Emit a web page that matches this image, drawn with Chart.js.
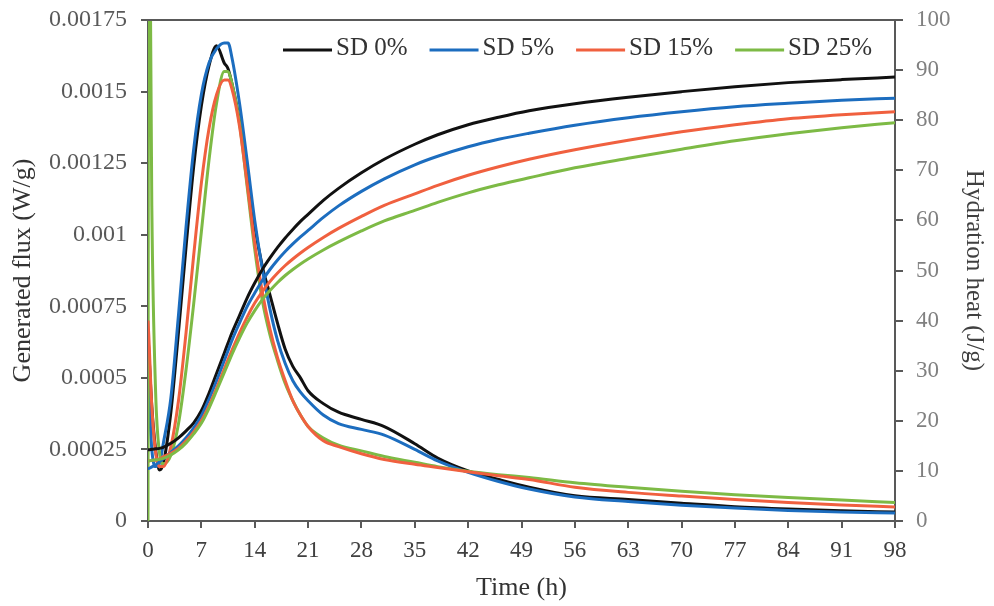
<!DOCTYPE html>
<html>
<head>
<meta charset="utf-8">
<title>Generated flux and hydration heat</title>
<script src="https://cdn.jsdelivr.net/npm/chart.js@4.4.1/dist/chart.umd.min.js"></script>
<style>
  html, body { margin: 0; padding: 0; background: #fff; }
  #wrap { width: 994px; height: 606px; position: relative; }
</style>
</head>
<body>
<div id="wrap"><canvas id="chart"></canvas></div>
<script>
// -- Data ------------------------------------------------------------------
const TIME_H = [0, 0.1, 0.5, 1, 1.5, 2, 3, 4, 5, 6, 7, 8, 9, 10, 10.5, 11, 12, 13, 14, 15,
  16, 17, 18, 19, 20, 21, 23, 25, 28, 31, 35, 38, 42, 46, 50, 56, 63, 70, 77, 84, 91, 98];

// generated flux (W/g), left axis
const FLUX_SD0 = [0.00065, 0.0006, 0.0004, 0.00025, 0.000178, 0.0002, 0.00038, 0.00066, 0.00096, 0.00124,
  0.00145, 0.00159, 0.00166, 0.0016, 0.00158, 0.00153, 0.0014, 0.00122, 0.00103, 0.00089,
  0.00079, 0.00069, 0.0006, 0.00054, 0.0005, 0.000455, 0.00041, 0.00038, 0.000355, 0.00033,
  0.00027, 0.00022, 0.000175, 0.000145, 0.000118, 0.000088, 0.000075, 0.000062, 0.00005, 0.000042,
  0.000036, 0.000031];
const FLUX_SD5 = [0.0005, 0.00045, 0.00025, 0.00019, 0.0002, 0.00027, 0.00043, 0.00072, 0.00103, 0.0013,
  0.00149, 0.0016, 0.00165, 0.00167, 0.00167, 0.00162, 0.00146, 0.00126, 0.00105, 0.00088,
  0.00074, 0.00063, 0.00055, 0.00049, 0.00045, 0.00042, 0.00037, 0.00034, 0.00032, 0.0003,
  0.00025, 0.00021, 0.00017, 0.000138, 0.000112, 0.000084, 0.000068, 0.000055, 0.000045, 0.000037,
  0.000031, 0.000028];
const FLUX_SD15 = [0.0007, 0.00065, 0.0004, 0.00024, 0.00019, 0.00019, 0.00026, 0.00042, 0.00066, 0.00093,
  0.00118, 0.00137, 0.00149, 0.00154, 0.00154, 0.00151, 0.00138, 0.00118, 0.00097, 0.0008,
  0.00067, 0.00057, 0.00049, 0.00042, 0.00037, 0.00033, 0.00028, 0.00026, 0.000235, 0.000215,
  0.000198, 0.000187, 0.000172, 0.000158, 0.000145, 0.000118, 0.0001, 0.000087, 0.000075, 0.000065,
  0.000056, 0.000049];
const FLUX_SD25 = [0, 0.0025, 0.0011, 0.00045, 0.00024, 0.0002, 0.00023, 0.00034, 0.00053, 0.00076,
  0.00101, 0.00126, 0.00146, 0.00157, 0.00157, 0.00153, 0.00139, 0.00117, 0.00095, 0.00077,
  0.00065, 0.00056, 0.00048, 0.00042, 0.00037, 0.00033, 0.00029, 0.000265, 0.000245, 0.000225,
  0.000205, 0.00019, 0.000174, 0.000162, 0.000152, 0.000134, 0.000118, 0.000104, 0.000092, 0.000082,
  0.000073, 0.000065];

// hydration heat (J/g), right axis
const HEAT_SD0 = [14.2, 14.2, 14.3, 14.4, 14.5, 14.7, 15.5, 16.6, 18, 19.6,
  22, 25.5, 29.5, 33.5, 35.5, 37.5, 41, 44.5, 47.5, 50.2,
  52.5, 54.6, 56.5, 58.2, 59.8, 61.2, 64, 66.4, 69.5, 72.2,
  75.2, 77.1, 79.1, 80.6, 81.9, 83.3, 84.6, 85.7, 86.7, 87.5,
  88.1, 88.6];
const HEAT_SD5 = [10.5, 10.5, 10.8, 11.2, 11.8, 12.4, 13.7, 15, 16.6, 18.6,
  21, 24.3, 28, 32, 34, 36, 39.5, 42.8, 45.5, 48,
  50.2, 52.1, 53.8, 55.3, 56.7, 58, 60.6, 62.9, 65.8, 68.3,
  71.1, 72.8, 74.7, 76.2, 77.4, 79, 80.5, 81.7, 82.7, 83.4,
  84, 84.4];
const HEAT_SD15 = [12, 12, 12.1, 12.2, 12.4, 12.8, 13.5, 14.5, 16, 17.8,
  20, 23, 26.5, 30.3, 32.2, 34, 37.5, 40.7, 43.5, 45.8,
  47.8, 49.5, 51, 52.3, 53.5, 54.6, 56.6, 58.4, 60.8, 63,
  65.3, 67, 69, 70.7, 72.2, 74.1, 76, 77.7, 79.1, 80.3,
  81.1, 81.7];
const HEAT_SD25 = [12, 12, 12.1, 12.2, 12.3, 12.5, 13.2, 14.2, 15.6, 17.4,
  19.5, 22.5, 26, 29.6, 31.4, 33.2, 36.5, 39.5, 42, 44.2,
  46, 47.6, 49, 50.2, 51.3, 52.3, 54.1, 55.7, 57.9, 59.9,
  62, 63.6, 65.5, 67.1, 68.5, 70.5, 72.4, 74.2, 75.9, 77.3,
  78.5, 79.5];

const SERIES_LABELS = ['SD 0%', 'SD 5%', 'SD 15%', 'SD 25%'];
const SERIES_COLORS = ['#111111', '#1c6dbf', '#f0603f', '#7dba45'];

const X_TICKS = [0, 7, 14, 21, 28, 35, 42, 49, 56, 63, 70, 77, 84, 91, 98];
const FLUX_TICKS = [0, 0.00025, 0.0005, 0.00075, 0.001, 0.00125, 0.0015, 0.00175];
const HEAT_TICKS = [0, 10, 20, 30, 40, 50, 60, 70, 80, 90, 100];

// -- Build datasets -------------------------------------------------------
const FONT = '"Liberation Serif", "Times New Roman", serif';
const AXIS_GREY = '#595959';

function pts(ys) {
  return ys.map(function (y, i) { return { x: TIME_H[i], y: y }; });
}

function line(idx, ys, axis) {
  return {
    label: SERIES_LABELS[idx],
    data: pts(ys),
    yAxisID: axis,
    borderColor: SERIES_COLORS[idx],
    backgroundColor: SERIES_COLORS[idx],
    borderWidth: 3,
    pointRadius: 0,
    fill: false,
    cubicInterpolationMode: 'monotone'
  };
}

const datasets = [
  line(3, HEAT_SD25, 'y1'),
  line(2, HEAT_SD15, 'y1'),
  line(1, HEAT_SD5, 'y1'),
  line(0, HEAT_SD0, 'y1'),
  line(2, FLUX_SD15, 'y'),
  line(3, FLUX_SD25, 'y'),
  line(1, FLUX_SD5, 'y'),
  line(0, FLUX_SD0, 'y')
];

// vertical axes: fixed width and no label overhang, so the plot box is exact
function fixVertical(width) {
  return function (s) {
    s.width = width;
    s.paddingTop = 0;
    s.paddingBottom = 0;
  };
}

// legend sits inside the plot area, plus the top frame line
const insideLegend = {
  id: 'insideLegend',
  afterDatasetsDraw(chart) {
    const ctx = chart.ctx;
    const area = chart.chartArea;
    ctx.save();
    ctx.strokeStyle = AXIS_GREY;
    ctx.lineWidth = 2;
    ctx.beginPath();
    ctx.moveTo(area.left, area.top);
    ctx.lineTo(area.right, area.top);
    ctx.stroke();

    ctx.font = '25px ' + FONT;
    ctx.textBaseline = 'middle';
    let x = area.left + 135;
    const y = area.top + 28;
    SERIES_LABELS.forEach(function (lab, i) {
      ctx.strokeStyle = SERIES_COLORS[i];
      ctx.lineWidth = 3;
      ctx.beginPath();
      ctx.moveTo(x, y + 2);
      ctx.lineTo(x + 49, y + 2);
      ctx.stroke();
      x += 53;
      ctx.fillStyle = '#333333';
      ctx.fillText(lab, x, y);
      x += ctx.measureText(lab).width + 22;
    });
    ctx.restore();
  }
};

new Chart(document.getElementById('chart'), {
  type: 'line',
  data: { datasets: datasets },
  plugins: [insideLegend],
  options: {
    responsive: true,
    maintainAspectRatio: false,
    animation: false,
    devicePixelRatio: 1,
    layout: { padding: { top: 20, left: 0, right: 0, bottom: 0 } },
    plugins: { legend: { display: false }, tooltip: { enabled: false } },
    scales: {
      x: {
        type: 'linear',
        min: 0,
        max: 98,
        afterBuildTicks: function (s) { s.ticks = X_TICKS.map(function (v) { return { value: v }; }); },
        afterFit: function (s) { s.height = 85; },
        ticks: { color: '#404040', font: { family: FONT, size: 23 }, padding: 9, autoSkip: false, maxRotation: 0 },
        grid: { drawOnChartArea: false, drawTicks: true, tickLength: 7, color: AXIS_GREY, lineWidth: 2 },
        border: { color: AXIS_GREY, width: 2 },
        title: { display: true, text: 'Time (h)', color: '#333333', font: { family: FONT, size: 26 }, padding: { top: 0, bottom: 2 } }
      },
      y: {
        position: 'left',
        min: 0,
        max: 0.00175,
        afterBuildTicks: function (s) { s.ticks = FLUX_TICKS.map(function (v) { return { value: v }; }); },
        afterFit: fixVertical(148),
        ticks: { color: '#595959', font: { family: FONT, size: 24 }, padding: 14, callback: function (v) { return String(v); } },
        grid: { drawOnChartArea: false, drawTicks: true, tickLength: 7, color: AXIS_GREY, lineWidth: 2 },
        border: { color: AXIS_GREY, width: 2 },
        title: { display: true, text: 'Generated flux (W/g)', color: '#333333', font: { family: FONT, size: 26 }, padding: { top: 8, bottom: 0 } }
      },
      y1: {
        position: 'right',
        min: 0,
        max: 100,
        afterBuildTicks: function (s) { s.ticks = HEAT_TICKS.map(function (v) { return { value: v }; }); },
        afterFit: fixVertical(99),
        ticks: { color: '#808080', font: { family: FONT, size: 23 }, padding: 13, callback: function (v) { return String(v); } },
        grid: { drawOnChartArea: false, drawTicks: true, tickLength: 8, color: AXIS_GREY, lineWidth: 2 },
        border: { color: AXIS_GREY, width: 2 },
        title: { display: true, text: 'Hydration heat (J/g)', color: '#404040', font: { family: FONT, size: 25 }, padding: { top: 5, bottom: 0 } }
      }
    }
  }
});
</script>
</body>
</html>
